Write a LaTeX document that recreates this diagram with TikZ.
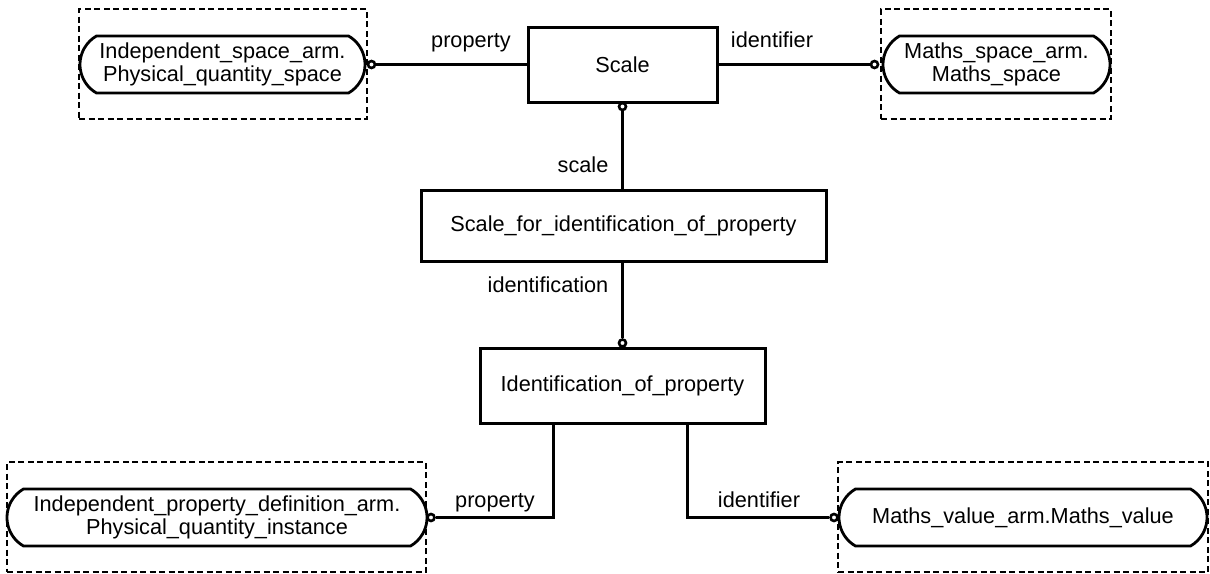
\documentclass[tikz,border=0pt]{standalone}
\usepackage{fontspec}
\setmainfont{Liberation Sans}
\usetikzlibrary{shapes.misc}
\begin{document}
\begin{tikzpicture}[x=1pt,y=-1pt,
  every node/.style={font=\fontsize{21.7}{23.5}\selectfont},
  box/.style={draw, line width=3pt, inner sep=0pt, align=center},
  pill/.style={rounded rectangle, rounded rectangle arc length=120, draw, line width=2.8pt, inner sep=0pt, align=center, fill=white},
  dashbox/.style={draw, line width=1.3pt, dash pattern=on 6pt off 3.5pt, inner sep=0pt},
  conn/.style={line width=3pt},
  ring/.style={circle, draw, fill=white, line width=2.6pt, minimum size=7pt, inner sep=0pt},
  lbl/.style={anchor=base, inner sep=0pt}]
\useasboundingbox (0,0) rectangle (1210,573);
% dashed frames
\node[dashbox, minimum width=288, minimum height=110] (d1) at (223,64) {};
\node[dashbox, minimum width=230, minimum height=110] (d2) at (996,64) {};
\node[dashbox, minimum width=419, minimum height=110] (d3) at (216.5,517) {};
\node[dashbox, minimum width=370, minimum height=110] (d4) at (1023,517) {};
% entities
\node[pill, minimum width=285, minimum height=57] (p1) at (222.5,64.5) {Independent\_space\_arm.\\Physical\_quantity\_space};
\node[box, minimum width=189, minimum height=75] (scale) at (622.5,64.5) {Scale};
\node[pill, minimum width=227, minimum height=57] (p2) at (996.5,64.5) {Maths\_space\_arm.\\Maths\_space};
\node[box, minimum width=405, minimum height=71] (sfi) at (623.5,225.5) {Scale\_for\_identification\_of\_property};
\node[box, minimum width=285, minimum height=75] (iop) at (622.5,385.5) {Identification\_of\_property};
\node[pill, minimum width=420, minimum height=57] (p3) at (217,517.5) {Independent\_property\_definition\_arm.\\Physical\_quantity\_instance};
\node[pill, minimum width=368, minimum height=57] (p4) at (1023,517.5) {Maths\_value\_arm.Maths\_value};
% rings
\node[ring] (r1) at (371.5,64.5) {};
\node[ring] (r2) at (874.5,64.5) {};
\node[ring] (r3) at (622.5,106.5) {};
\node[ring] (r4) at (622.5,343) {};
\node[ring] (r5) at (431,517.5) {};
\node[ring] (r6) at (834,517.5) {};
% connectors
\draw[conn] (scale.west) -- (r1);
\draw[conn] (scale.east) -- (r2);
\draw[conn] (r3) -- (sfi.north -| r3);
\draw[conn] (sfi.south -| r4) -- (r4);
\draw[conn] ([xshift=-69.5pt]iop.south) |- (r5);
\draw[conn] ([xshift=64.5pt]iop.south) |- (r6);
% labels
\node[lbl] (l1) at (471,47) {property};
\node[lbl] (l2) at (772,47) {identifier};
\node[lbl] (l3) at (583,172) {scale};
\node[lbl] (l4) at (548,292) {identification};
\node[lbl] (l5) at (495,507) {property};
\node[lbl] (l6) at (759,507) {identifier};
\end{tikzpicture}
\end{document}
